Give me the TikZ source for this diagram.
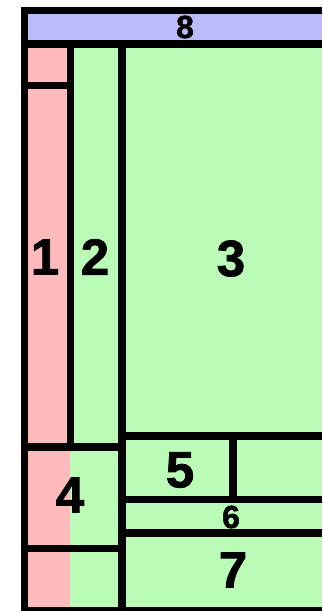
\documentclass[tikz,border=0pt]{standalone}
\usepackage{fontspec}
\setmainfont{Liberation Sans}[BoldFeatures={FakeBold=1.6}]
\definecolor{pinkc}{HTML}{FFBBBB}
\definecolor{greenc}{HTML}{BBFBB8}
\definecolor{bluec}{HTML}{BBBBFA}
\tikzset{
  lbl/.style={font=\bfseries\fontsize{51}{51}\selectfont, inner sep=0pt},
  lblsmall/.style={font=\bfseries\fontsize{32}{32}\selectfont, inner sep=0pt}
}
\begin{document}
\begin{tikzpicture}[x=1pt,y=-1pt]
\useasboundingbox (0,0) rectangle (322,611);
\fill[white] (0,0) rectangle (322,611);
% black frame/background
\fill[black] (21,7) rectangle (322,611);
% regions
\fill[bluec] (28,14) rectangle (322,40);
\fill[pinkc] (28,48) rectangle (67,82);
\fill[pinkc] (28,89) rectangle (67,443);
\fill[greenc] (74,48) rectangle (118,443);
\fill[greenc] (126,48) rectangle (322,432);
\fill[pinkc] (28,451) rectangle (70,545);
\fill[greenc] (70,451) rectangle (118,545);
\fill[pinkc] (28,552) rectangle (70,607);
\fill[greenc] (70,552) rectangle (118,607);
\fill[greenc] (126,440) rectangle (229,496);
\fill[greenc] (237,440) rectangle (322,496);
\fill[greenc] (126,503) rectangle (322,529);
\fill[greenc] (126,537) rectangle (322,607);
% labels
\node[lblsmall] (l8) at (185,27) {8};
\node[lbl] (l1) at (45,257) {1};
\node[lbl] (l2) at (95,257) {2};
\node[lbl] (l3) at (231,258.5) {3};
\node[lbl] (l4) at (70,495) {4};
\node[lbl] (l5) at (180,470) {5};
\node[lblsmall] (l6) at (231,517) {6};
\node[lbl] (l7) at (233,570) {7};
\end{tikzpicture}
\end{document}
